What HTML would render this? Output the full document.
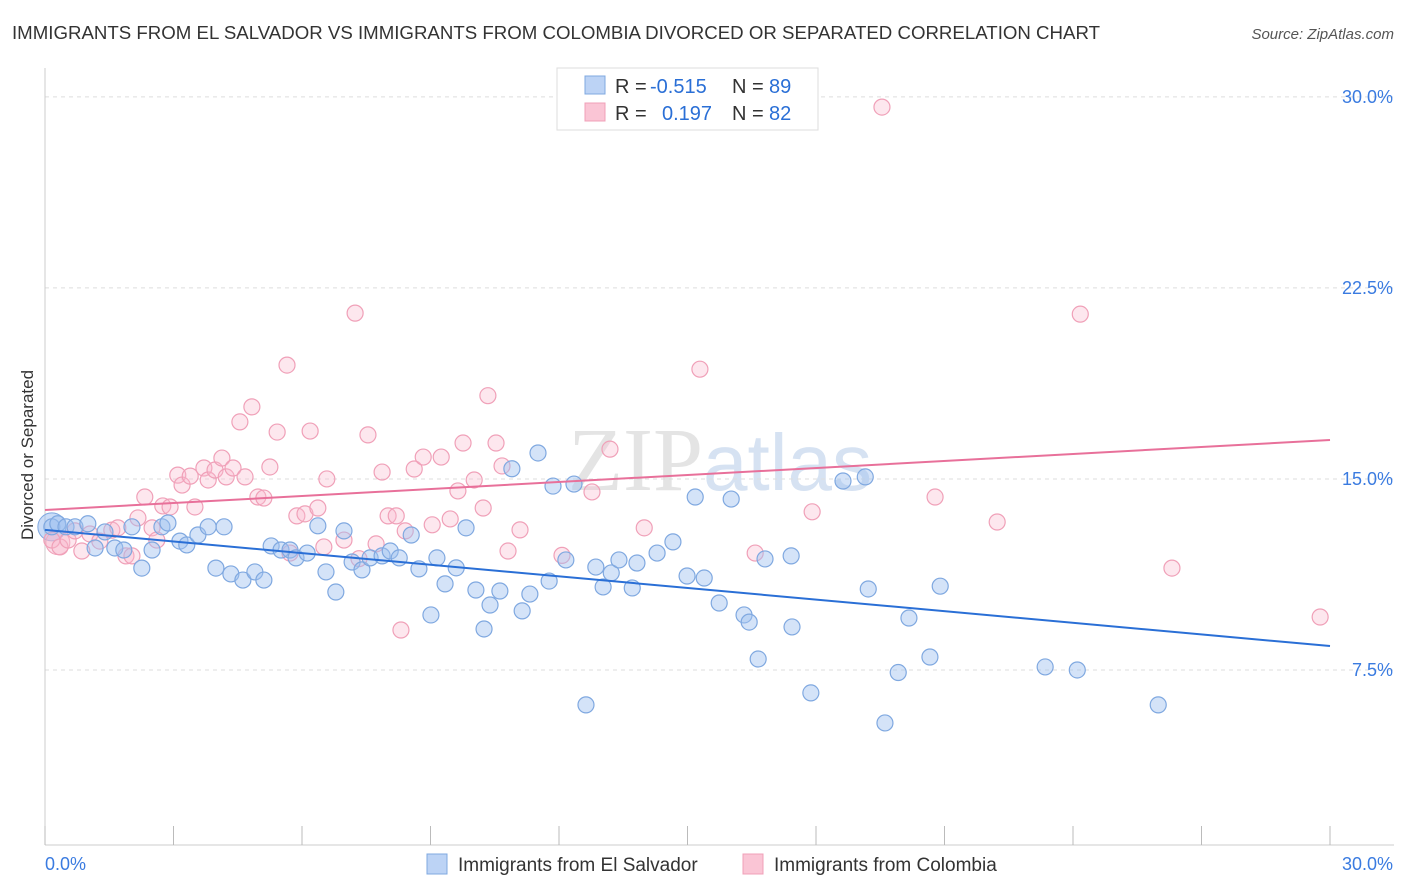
<!DOCTYPE html>
<html><head><meta charset="utf-8"><style>
body{margin:0;background:#fff;font-family:"Liberation Sans",sans-serif;}
svg{display:block}
</style></head><body>
<svg id="chart" width="1406" height="892">
<text x="12" y="39" font-size="18" fill="#333" textLength="1088" lengthAdjust="spacingAndGlyphs">IMMIGRANTS FROM EL SALVADOR VS IMMIGRANTS FROM COLOMBIA DIVORCED OR SEPARATED CORRELATION CHART</text>
<text x="1394" y="39" font-size="15" fill="#555" font-style="italic" text-anchor="end">Source: ZipAtlas.com</text>
<text x="720" y="490" font-size="90" fill="#e4e4e4" text-anchor="middle" font-family="Liberation Serif">ZIP<tspan fill="#d6e2f2" font-family="Liberation Sans" font-size="80">atlas</tspan></text>
<g id="grid"></g>
<g id="pts"></g>
<text transform="translate(33,455) rotate(-90)" font-size="17" fill="#333" text-anchor="middle">Divorced or Separated</text>
<g>
<rect x="557" y="68" width="261" height="62" fill="#fff" stroke="#ddd"/>
<rect x="585" y="76" width="20" height="18" fill="#bcd3f5" stroke="#7fa8e0"/>
<rect x="585" y="103" width="20" height="18" fill="#fac5d5" stroke="#f0a0b8"/>
<g font-size="20" fill="#333">
<text x="615" y="93">R =</text><text x="650" y="93" fill="#2a6fd6">-0.515</text><text x="732" y="93">N =</text><text x="769" y="93" fill="#2a6fd6">89</text>
<text x="615" y="120">R =</text><text x="662" y="120" fill="#2a6fd6">0.197</text><text x="732" y="120">N =</text><text x="769" y="120" fill="#2a6fd6">82</text>
</g>
</g>
<g>
<rect x="427" y="854" width="20" height="20" fill="#bcd3f5" stroke="#7fa8e0"/>
<text x="458" y="871" font-size="19" fill="#333">Immigrants from El Salvador</text>
<rect x="743" y="854" width="20" height="20" fill="#fac5d5" stroke="#f0a0b8"/>
<text x="774" y="871" font-size="19" fill="#333">Immigrants from Colombia</text>
</g>
</svg>
<script>
const xTicks=[0,30];
const yTicks=[7.5,15,22.5,30];
const blueX=[0.16,0.3,0.49,0.7,1.0,1.17,1.4,1.63,1.84,2.03,2.26,2.5,2.73,2.87,3.15,3.31,3.57,3.81,3.99,4.18,4.34,4.62,4.9,5.11,5.28,5.51,5.72,5.86,6.12,6.37,6.56,6.79,6.98,7.17,7.4,7.59,7.87,8.06,8.27,8.55,8.73,9.01,9.15,9.34,9.6,9.83,10.06,10.25,10.39,10.62,10.9,11.14,11.32,11.51,11.77,11.86,12.16,12.35,12.63,12.86,13.03,13.22,13.4,13.71,13.82,14.29,14.66,14.99,15.18,15.39,15.74,16.02,16.32,16.44,16.65,16.81,17.42,17.44,17.88,18.63,19.15,19.22,19.61,19.92,20.17,20.66,20.9,23.35,24.1,25.99];
const blueY=[13.12,13.24,13.12,13.12,13.24,12.29,12.92,12.29,12.21,13.12,11.5,12.21,13.12,13.27,12.56,12.41,12.8,13.12,11.5,13.12,11.27,11.03,11.35,11.03,12.37,12.21,12.21,11.9,12.09,13.16,11.35,10.56,12.96,11.74,11.43,11.9,11.98,12.17,11.9,12.8,11.47,9.66,11.9,10.88,11.51,13.08,10.64,9.11,10.05,10.6,15.4,9.82,10.48,16.02,10.99,14.72,11.82,14.8,6.13,11.54,10.76,11.31,11.82,10.72,11.7,12.09,12.53,11.19,14.29,11.11,10.13,14.21,9.66,9.38,7.93,11.86,11.98,9.19,6.6,14.92,15.08,10.68,5.42,7.4,9.54,8.01,10.79,7.62,7.5,6.13];
const pinkX=[0.16,0.35,0.54,0.7,0.86,1.05,1.28,1.56,1.7,1.89,2.03,2.17,2.33,2.5,2.61,2.75,2.92,3.1,3.2,3.39,3.5,3.71,3.81,3.97,4.13,4.23,4.39,4.55,4.67,4.83,4.97,5.11,5.25,5.42,5.65,5.72,5.88,6.07,6.19,6.37,6.51,6.58,6.98,7.24,7.33,7.54,7.73,7.87,8.01,8.2,8.31,8.41,8.62,8.83,9.04,9.25,9.46,9.64,9.76,10.02,10.23,10.34,10.53,10.67,10.81,11.09,12.07,12.77,13.19,13.99,15.29,16.58,17.91,19.54,20.78,22.23,24.17,26.31,29.77];
const pinkY=[12.6,12.33,12.6,12.96,12.17,12.84,12.56,12.99,13.08,11.98,11.98,13.47,14.29,13.08,12.6,13.94,13.9,15.15,14.76,15.11,13.9,15.43,14.96,15.35,15.82,15.08,15.43,17.24,15.08,17.83,14.29,14.25,15.47,16.84,19.47,12.09,13.55,13.63,16.88,13.86,12.33,15.0,12.6,21.51,11.87,16.73,12.45,15.27,13.55,13.55,9.07,12.96,15.39,15.86,13.2,15.86,13.43,14.53,16.41,14.96,13.86,18.27,16.41,15.51,12.17,13.0,12.0,14.49,16.17,13.08,19.31,12.09,13.71,29.6,14.29,13.31,21.47,11.5,9.58];
const blueLine=[13.0,8.44];
const pinkLine=[13.78,16.53];
const X=v=>45+v*1285/30, Y=v=>861-v*25.47;
const NS='http://www.w3.org/2000/svg';
function mk(tag,attrs,parent){const e=document.createElementNS(NS,tag);for(const k in attrs)e.setAttribute(k,attrs[k]);parent.appendChild(e);return e;}
const g=document.getElementById('grid');
for(const t of yTicks){
 const l=mk('line',{x1:45,x2:1394,y1:Y(t),y2:Y(t),stroke:'#ddd','stroke-dasharray':'4,4'},g);
 
 
 const tx=mk('text',{x:1393,y:Y(t)+6,'font-size':18,fill:'#3a7be0','text-anchor':'end'},g);
 tx.textContent=t.toFixed(1)+'%';
 
 
}
const ax=mk('line',{x1:45,x2:1394,y1:845,y2:845,stroke:'#ccc'},g);


const ay=mk('line',{x1:45,x2:45,y1:68,y2:845,stroke:'#ccc'},g);


for(let i=0;i<=10;i++){
 const t=mk('line',{x1:X(i*3),x2:X(i*3),y1:826,y2:845,stroke:'#bbb'},g);
 
 
}
xTicks.forEach((v,i)=>{
 const tx=mk('text',{x:X(v)+(i==0?0:63),y:870,'font-size':18,fill:'#3a7be0','text-anchor':i==0?'start':'end'},g);
 tx.textContent=v.toFixed(1)+'%';
 
 
});
const p=document.getElementById('pts');
const bg=mk('circle',{cx:X(0.16),cy:Y(13.12),r:14,fill:'rgba(150,185,240,0.5)',stroke:'#7fa8e0'},p);


const pg=mk('circle',{cx:X(0.3),cy:Y(12.5),r:12,fill:'rgba(245,175,200,0.4)',stroke:'#f0a0b8'},p);


pinkX.forEach((v,i)=>{
 const c=mk('circle',{cx:X(v),cy:Y(pinkY[i]),r:8,fill:'rgba(248,185,205,0.35)',stroke:'#f0a0b8','stroke-width':1.2},p);
 
 
});
blueX.forEach((v,i)=>{
 const c=mk('circle',{cx:X(v),cy:Y(blueY[i]),r:8,fill:'rgba(160,192,240,0.45)',stroke:'#7fa8e0','stroke-width':1.2},p);
 
 
});
const bl=mk('line',{x1:X(0),y1:Y(blueLine[0]),x2:X(30),y2:Y(blueLine[1]),stroke:'#2a6fd6','stroke-width':2},p);


const pl=mk('line',{x1:X(0),y1:Y(pinkLine[0]),x2:X(30),y2:Y(pinkLine[1]),stroke:'#e8709a','stroke-width':2},p);


</script>
</body></html>
